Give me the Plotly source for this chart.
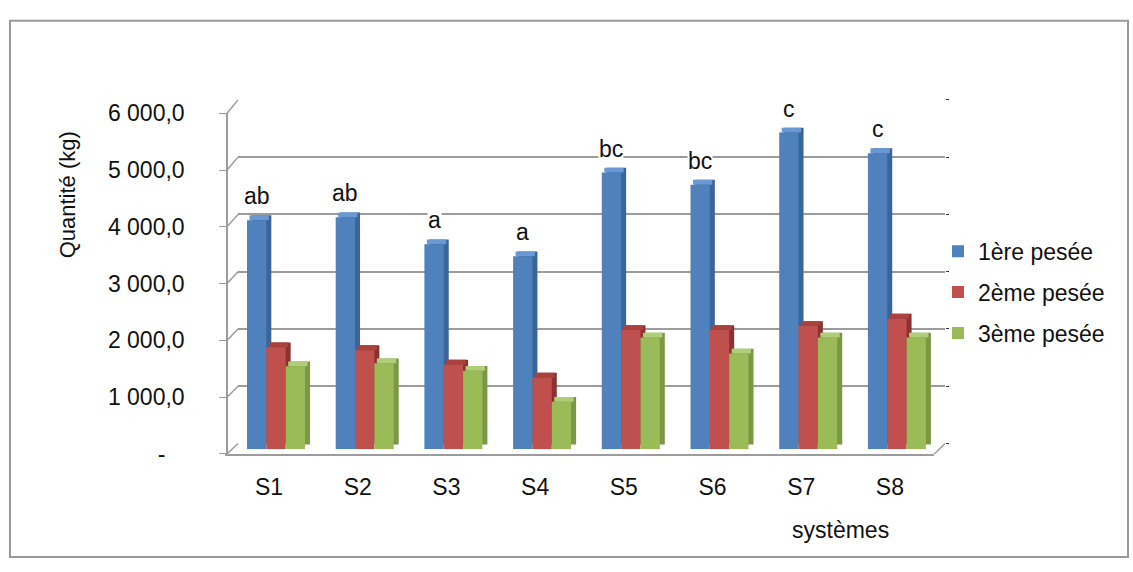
import plotly.graph_objects as go

# ---- data -------------------------------------------------------------
systemes = ["S1", "S2", "S3", "S4", "S5", "S6", "S7", "S8"]
pesee_1 = [4000, 4050, 3580, 3370, 4830, 4620, 5530, 5170]
pesee_2 = [1780, 1730, 1480, 1250, 2080, 2080, 2150, 2280]
pesee_3 = [1450, 1500, 1370, 830, 1950, 1670, 1950, 1950]
lettres = ["ab", "ab", "a", "a", "bc", "bc", "c", "c"]
noms_series = ["1ère pesée", "2ème pesée", "3ème pesée"]
graduations = [0, 1000, 2000, 3000, 4000, 5000, 6000]
etiquettes_y = ["-\u2007\u2008", "1 000,0", "2 000,0", "3 000,0",
                "4 000,0", "5 000,0", "6 000,0"]

# ---- page geometry (pixels) -------------------------------------------
W, H = 1133, 572
FONT = "Liberation Sans, Arial, sans-serif"


def px(x):
    return x / W


def py(y):
    return 1 - y / H


CAT = 88.7                      # width of one category in pixels
BAR_CENTER0 = 276               # centre of the S1 bar group (front faces)
LABEL_CENTER0 = 269             # centre of the S1 category label
BACK_X0, BACK_X1 = 238, 945     # back wall horizontal extent
BACK_Y0, BACK_Y1 = 451, 91      # back wall: value 0 and 6000
BAR_Y0, BAR_Y1 = 457, 97        # bar plane: value 0 and 6000
FRONT_Y0, FRONT_Y1 = 462, 105   # front edge: value 0 and 6000
FRONT_X = 227                   # front vertical edge of the side wall
YMAX = 6000

couleurs = ["#4F81BD", "#C0504D", "#9BBB59"]
couleurs_dessus = ["#6A98D2", "#A9423F", "#B0CE7A"]
couleurs_cote = ["#3A659C", "#8A3230", "#7A9744"]
bar_w = 0.218
offsets = [-0.327, -0.109, 0.109]
depth_dx = 5 / CAT                        # side-face shift, category units
depth_dy = 5 * YMAX / (BAR_Y0 - BAR_Y1)   # top-face shift, value units

valeurs = [pesee_1, pesee_2, pesee_3]

fig = go.Figure()

# back wall (grid) subplot: invisible carrier trace
fig.add_trace(go.Scatter(x=systemes, y=[0] * 8, xaxis="x", yaxis="y",
                         mode="markers", marker=dict(opacity=0),
                         showlegend=False, hoverinfo="skip"))

# darker side faces of the columns
for vals, off, col in zip(valeurs, offsets, couleurs_cote):
    fig.add_trace(go.Bar(x=systemes, y=vals, base=[depth_dy] * len(vals),
                         xaxis="x2", yaxis="y2", width=bar_w,
                         offset=off + depth_dx,
                         marker=dict(color=col, line=dict(width=0)),
                         showlegend=False, hoverinfo="skip"))

# top faces of the columns
for vals, off, col in zip(valeurs, offsets, couleurs_dessus):
    fig.add_trace(go.Bar(x=systemes, y=[depth_dy] * len(vals), base=vals,
                         xaxis="x2", yaxis="y2", width=bar_w,
                         offset=off + depth_dx / 2,
                         marker=dict(color=col, line=dict(width=0)),
                         showlegend=False, hoverinfo="skip"))

# front faces
for vals, off, col, nom in zip(valeurs, offsets, couleurs, noms_series):
    fig.add_trace(go.Bar(x=systemes, y=vals, name=nom, xaxis="x2",
                         yaxis="y2", width=bar_w, offset=off,
                         legendgroup=nom,
                         marker=dict(color=col, line=dict(width=0))))

# front edge subplot: carries tick labels
fig.add_trace(go.Scatter(x=systemes, y=[0] * 8, xaxis="x3", yaxis="y3",
                         mode="markers", marker=dict(opacity=0),
                         showlegend=False, hoverinfo="skip"))

# significance letters above the first weighing
for k, (lettre, v) in enumerate(zip(lettres, pesee_1)):
    fig.add_annotation(x=k + offsets[0] + bar_w / 2, y=v, xref="x2",
                       yref="y2", text=lettre, showarrow=False,
                       xanchor="center", yanchor="middle", yshift=24,
                       bgcolor="white", borderpad=0,
                       font=dict(family=FONT, size=23, color="#111"))

grid_col = "#9C9C9C"

# side wall grid lines joining the front edge to the back wall
shapes = []
for v in graduations:
    yf = py(FRONT_Y0) + v / YMAX * (py(FRONT_Y1) - py(FRONT_Y0))
    yb = py(BACK_Y0) + v / YMAX * (py(BACK_Y1) - py(BACK_Y0))
    shapes.append(dict(type="line", xref="paper", yref="paper",
                       x0=px(FRONT_X), y0=yf, x1=px(BACK_X0), y1=yb,
                       line=dict(color=grid_col, width=1.5)))
# right edge of the floor
front_x1 = LABEL_CENTER0 + 7 * CAT + CAT / 2
shapes.append(dict(type="line", xref="paper", yref="paper",
                   x0=px(front_x1), y0=py(FRONT_Y0),
                   x1=px(BACK_X1), y1=py(BACK_Y0),
                   line=dict(color=grid_col, width=1.5)))
# outer frame
shapes.append(dict(type="rect", xref="paper", yref="paper",
                   x0=px(10), y0=py(570), x1=px(1128), y1=py(8),
                   line=dict(color="#9A9A9A", width=2)))

cat_range = [-0.5, 7.5]
fig.update_layout(
    width=W, height=H, autosize=False,
    margin=dict(l=0, r=0, t=0, b=0),
    paper_bgcolor="white", plot_bgcolor="rgba(0,0,0,0)",
    barmode="overlay",
    font=dict(family=FONT, size=23, color="#111"),
    shapes=shapes,
    # back wall with horizontal grid lines
    xaxis=dict(domain=[px(BACK_X0), px(BACK_X1)], range=cat_range,
               type="category", visible=False, anchor="y"),
    yaxis=dict(domain=[py(BACK_Y0), py(BACK_Y1)], range=[0, YMAX],
               anchor="x", side="right", showgrid=True, gridcolor=grid_col,
               gridwidth=1.5, tick0=0, dtick=1000, zeroline=False,
               showticklabels=False, ticks="outside", ticklen=3,
               tickcolor="#333", showline=False),
    # bar plane
    xaxis2=dict(domain=[px(BAR_CENTER0 - CAT / 2),
                        px(BAR_CENTER0 + 7.5 * CAT)],
                range=cat_range, type="category", visible=False,
                anchor="y2"),
    yaxis2=dict(domain=[py(BAR_Y0), py(BAR_Y1)], range=[0, YMAX],
                visible=False, anchor="x2"),
    # front edge with the tick labels
    xaxis3=dict(domain=[px(LABEL_CENTER0 - CAT / 2), px(front_x1)],
                range=cat_range, type="category", anchor="y3",
                showline=True, linecolor=grid_col, linewidth=1.5,
                ticks="", showgrid=False, ticklabelstandoff=12,
                tickfont=dict(size=23)),
    yaxis3=dict(domain=[py(FRONT_Y0), py(FRONT_Y1)], range=[0, YMAX],
                anchor="free", position=px(FRONT_X), side="left",
                showline=True, linecolor=grid_col, linewidth=1.5,
                ticks="outside", ticklen=7, tickcolor=grid_col,
                tickvals=graduations, ticktext=etiquettes_y,
                showgrid=False, zeroline=False, ticklabelstandoff=30,
                tickfont=dict(size=23)),
    legend=dict(x=px(938), y=py(227), xanchor="left", yanchor="top",
                tracegroupgap=8, bgcolor="rgba(0,0,0,0)",
                font=dict(size=23), itemclick=False),
)

fig.add_annotation(x=px(67), y=py(191), xref="paper", yref="paper",
                   xanchor="center", yanchor="middle",
                   text="Quantité (kg)", textangle=-90, showarrow=False,
                   font=dict(family=FONT, size=22, color="#111"))
fig.add_annotation(x=px(840), y=py(542), xref="paper", yref="paper",
                   xanchor="center", yanchor="middle",
                   text="systèmes", showarrow=False,
                   font=dict(family=FONT, size=23, color="#111"))

fig.write_html("out.html")
